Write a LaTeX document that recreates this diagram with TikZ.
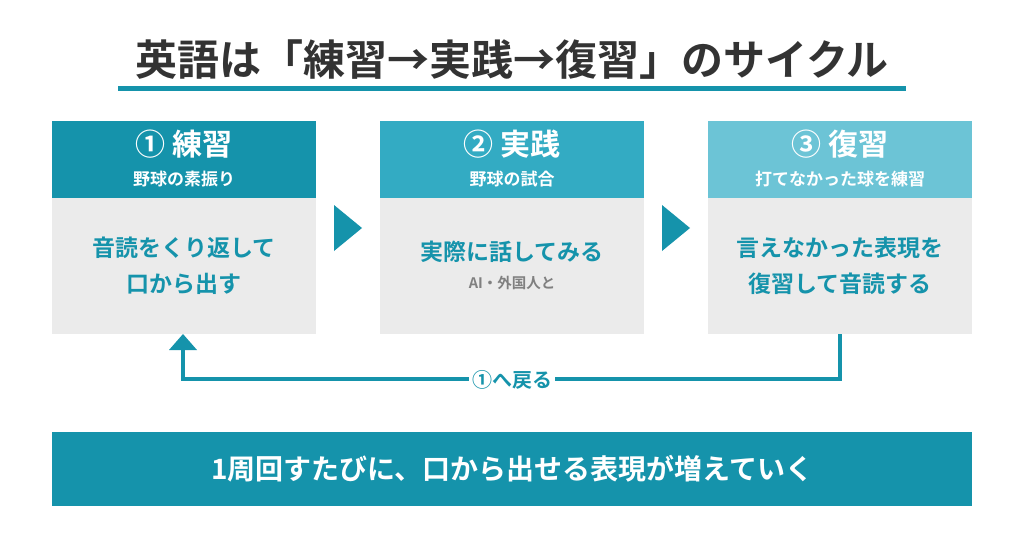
\documentclass[tikz,border=0pt]{standalone}
\usepackage{fontspec}
\newfontfamily\jp{Noto Sans CJK JP}[BoldFont=* Bold]
\usetikzlibrary{positioning}
\definecolor{tealA}{HTML}{1593AB}
\definecolor{tealB}{HTML}{33ABC3}
\definecolor{tealC}{HTML}{6CC4D6}
\definecolor{bodygray}{HTML}{EBEBEB}
\definecolor{inkgray}{HTML}{333333}
\tikzset{
  head/.style={draw=none, minimum width=264pt, minimum height=77pt, text=white, align=center, inner sep=0pt},
  body/.style={fill=bodygray, minimum width=264pt, minimum height=136pt, align=center, inner sep=0pt, text=tealA},
  next step/.style={fill=tealA, draw=none},
  loop line/.style={draw=tealA, line width=4pt}
}
\begin{document}
\begin{tikzpicture}[x=1pt,y=-1pt,font=\jp\bfseries]
\useasboundingbox (0,0) rectangle (1024,538);
% title
\node[text=inkgray, font=\jp\bfseries\fontsize{42}{48}\selectfont] (title) at (512,60) {英語は「練習→実践→復習」のサイクル};
\draw[tealA, line width=5pt] (118,88) -- (906,88);
% steps
\foreach \x/\c/\n/\t/\s in {52/tealA/① 練習/野球の素振り/1, 380/tealB/② 実践/野球の試合/2, 708/tealC/③ 復習/打てなかった球を練習/3} {
  \node[head, fill=\c, anchor=north west] (h\s) at (\x,121) {};
  \node[text=white, font=\jp\bfseries\fontsize{30}{32}\selectfont] at ([yshift=16]h\s.center) {\n};
  \node[text=white, font=\jp\bfseries\fontsize{17}{20}\selectfont] at ([yshift=-19]h\s.center) {\t};
  \node[body, anchor=north west] (b\s) at (\x,198) {};
}
\node[font=\jp\bfseries\fontsize{23}{36}\selectfont, text=tealA, align=center] at (b1) {音読をくり返して\\口から出す};
\node[font=\jp\bfseries\fontsize{23}{28}\selectfont, text=tealA] (b2t) at ([yshift=14]b2.center) {実際に話してみる};
\node[font=\jp\bfseries\fontsize{14.5}{18}\selectfont, text=gray, below=6pt of b2t] {AI・外国人と};
\node[font=\jp\bfseries\fontsize{23}{36}\selectfont, text=tealA, align=center] at (b3) {言えなかった表現を\\復習して音読する};
% arrows between
\fill[next step] (334,205) -- (362,228) -- (334,251) -- cycle;
\fill[next step] (662,205) -- (690,228) -- (662,251) -- cycle;
% loop back
\coordinate (l1) at (840,379);
\coordinate (l2) at (183,379);
\draw[loop line] (840,334) -- (l1) -- (l2) -- (183,350);
\fill[tealA] (183,334) -- (197,350) -- (169,350) -- cycle;
\node[fill=white, text=tealA, font=\jp\bfseries\fontsize{20}{24}\selectfont] (back) at (512,380) {①へ戻る};
% banner
\node[fill=tealA, minimum width=920pt, minimum height=74pt, anchor=north west, inner sep=0pt,
  text=white, font=\jp\bfseries\fontsize{28}{32}\selectfont] (banner) at (52,432) {1周回すたびに、口から出せる表現が増えていく};
\end{tikzpicture}
\end{document}
